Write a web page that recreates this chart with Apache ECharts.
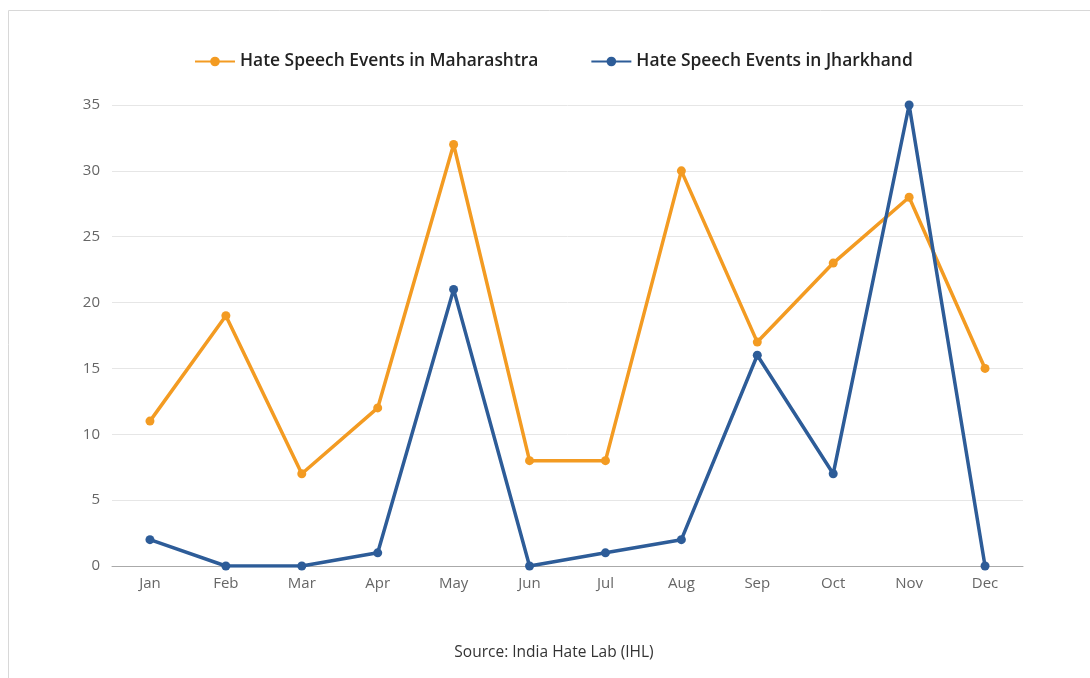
<!DOCTYPE html>
<html><head><meta charset="utf-8">
<script src="https://cdn.jsdelivr.net/npm/echarts@6/dist/echarts.min.js"></script>
<style>html,body{margin:0;padding:0;background:#fff}#c{width:1090px;height:678px}</style>
</head><body><div id="c"></div>
<script>
const months = ['Jan','Feb','Mar','Apr','May','Jun','Jul','Aug','Sep','Oct','Nov','Dec'];
const maharashtra = [11,19,7,12,32,8,8,30,17,23,28,15];
const jharkhand = [2,0,0,1,21,0,1,2,16,7,35,0];
const seriesNames = ['Hate Speech Events in Maharashtra','Hate Speech Events in Jharkhand'];
const sourceText = 'Source: India Hate Lab (IHL)';
const chart = echarts.init(document.getElementById('c'));
const font = '"Open Sans", "Noto Sans", sans-serif';
chart.setOption({
  animation:false,
  textStyle:{fontFamily:font},
  legend:{
    top:48, left:189, itemGap:52, itemWidth:40, itemHeight:12,
    textStyle:{fontFamily:font,fontSize:17.4,fontWeight:600,color:'#222'},
    data:seriesNames
  },
  grid:{left:112,right:67,top:105,bottom:112},
  xAxis:{
    type:'category', data:months, boundaryGap:true,
    axisLine:{lineStyle:{color:'#aaa'}},
    axisTick:{show:false},
    axisLabel:{color:'#666',fontSize:15,fontFamily:font,margin:10}
  },
  yAxis:{
    type:'value', min:0, max:35, interval:5,
    axisLine:{show:false}, axisTick:{show:false},
    splitLine:{lineStyle:{color:'#e6e6e6'}},
    axisLabel:{color:'#666',fontSize:15,fontFamily:font,margin:12}
  },
  graphic:[
    {type:'rect',shape:{x:8.5,y:10.5,width:1100,height:700},style:{fill:'none',stroke:'#d8d8d8',lineWidth:1}},
    {type:'text',x:554,y:653,style:{text:sourceText,fontFamily:font,fontSize:15.5,fill:'#333',textAlign:'center',textVerticalAlign:'middle'}}
  ],
  series:[
    {name:seriesNames[0],type:'line',data:maharashtra,color:'#F39B22',symbol:'circle',symbolSize:9,lineStyle:{width:3.5}},
    {name:seriesNames[1],type:'line',data:jharkhand,color:'#2D5C98',symbol:'circle',symbolSize:9,lineStyle:{width:3.5}}
  ]
});
</script></body></html>
